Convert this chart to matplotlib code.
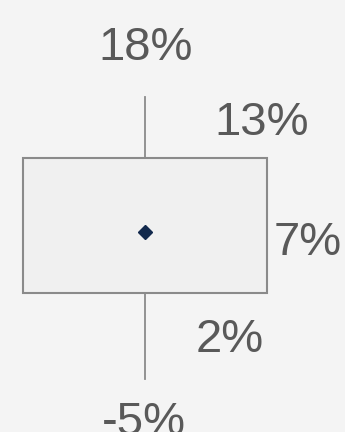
import matplotlib
matplotlib.use("Agg")
import matplotlib.pyplot as plt

# Summary statistics of the return distribution (percent)
stat_names = ["max", "q3", "mean", "q1", "min"]
stat_values = [18, 13, 7, 2, -5]
stat_labels = ["18%", "13%", "7%", "2%", "-5%"]

stats = dict(zip(stat_names, stat_values))

BG = "#f4f4f4"
BOX_FILL = "#f0f0f0"
EDGE = "#8a8a8a"
TEXT = "#595959"
MEAN_COLOR = "#12294d"

fig = plt.figure(figsize=(3.45, 4.32), dpi=100, facecolor=BG)
ax = fig.add_axes([0, 0, 1, 1])
ax.set_facecolor(BG)

bxp_stats = [{
    "whislo": stats["min"],
    "q1": stats["q1"],
    "med": (stats["q1"] + stats["q3"]) / 2,
    "mean": stats["mean"],
    "q3": stats["q3"],
    "whishi": stats["max"],
    "fliers": [],
}]

ax.bxp(
    bxp_stats,
    positions=[0],
    widths=1.0,
    showmeans=True,
    showcaps=False,
    showfliers=False,
    patch_artist=True,
    boxprops=dict(facecolor=BOX_FILL, edgecolor=EDGE, linewidth=1.5),
    whiskerprops=dict(color=EDGE, linewidth=1.3),
    medianprops=dict(linewidth=0),
    meanprops=dict(marker="D", markerfacecolor=MEAN_COLOR,
                   markeredgecolor=MEAN_COLOR, markersize=7.5),
)

ax.set_xlim(-0.594, 0.820)
ax.set_ylim(-9.33, 25.87)
ax.axis("off")

font = dict(family=["Liberation Sans", "DejaVu Sans"], size=34, color=TEXT)

# Label anchors: (x in data, value, pixel offset, horizontal alignment)
placements = [
    (0.0, stats["max"], (1, 36.6), "center"),
    (0.5, stats["q3"], (-5, 23), "center"),
    (0.5, stats["mean"], (7, -23.4), "left"),
    (0.0, stats["q1"], (85, -59), "center"),
    (0.0, stats["min"], (-1, -56), "center"),
]

for (x, v, off, ha), text in zip(placements, stat_labels):
    ax.annotate(text, xy=(x, v), xycoords="data",
                xytext=off, textcoords="offset pixels",
                ha=ha, va="baseline", annotation_clip=False, **font)

fig.savefig("out.png", dpi=100, facecolor=BG)
